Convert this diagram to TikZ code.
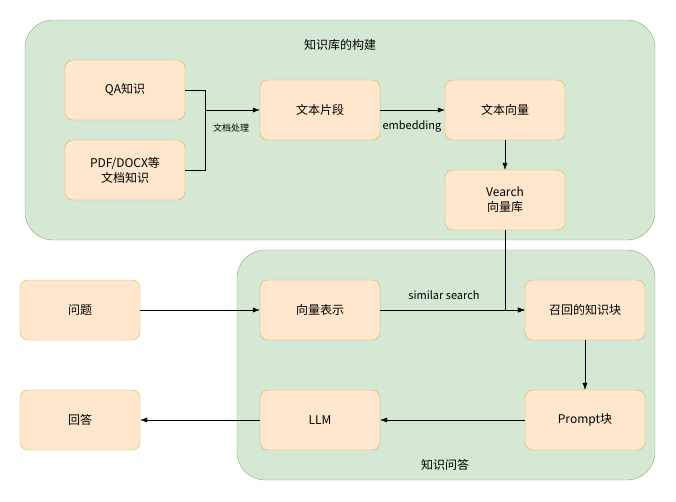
\documentclass[tikz,border=0pt]{standalone}
\usepackage{fontspec}
\setmainfont{Noto Sans CJK SC}
\usetikzlibrary{positioning,arrows.meta}
\definecolor{grpfill}{HTML}{D5E8D4}
\definecolor{grpline}{HTML}{82B366}
\definecolor{boxfill}{HTML}{FFE6CC}
\definecolor{boxline}{HTML}{D6B656}
\tikzset{
  group/.style={draw=grpline, fill=grpfill, rounded corners=28pt},
  box/.style={draw=boxline, fill=boxfill, rounded corners=8pt, minimum width=120pt, minimum height=60pt, align=center, font=\fontsize{12}{15}\selectfont},
  arr/.style={-{Latex[length=7pt,width=5pt]}, thin},
  lbl/.style={font=\fontsize{11}{13}\selectfont, inner sep=2pt}
}
\begin{document}
\begin{tikzpicture}[x=1pt, y=-1pt]
    \useasboundingbox (0,0) rectangle (676,501);

    % groups
    \draw[group] (25,20) rectangle (655,240);
    \node[font=\fontsize{12}{15}\selectfont] (buildtitle) at (340,45) {知识库的构建};
    \draw[group] (237,250) rectangle (655,480);
    \node[font=\fontsize{12}{15}\selectfont] (qatitle) at (445,465) {知识问答};

    % boxes
    \node[box] (qa) at (125,90) {QA知识};
    \node[box] (pdf) at (125,170) {PDF/DOCX等\\文档知识};
    \node[box] (seg) at (320,110) {文本片段};
    \node[box] (vec) at (505,110) {文本向量};
    \node[box] (vearch) at (505,200) {Vearch\\向量库};
    \node[box] (ques) at (80,310) {问题};
    \node[box] (qvec) at (320,310) {向量表示};
    \node[box] (recall) at (585,310) {召回的知识块};
    \node[box] (ans) at (80,420) {回答};
    \node[box] (llm) at (320,420) {LLM};
    \node[box] (prompt) at (585,420) {Prompt块};

    % connectors
    \coordinate (join) at (205,110);
    \draw (qa.east) -| (join);
    \draw (pdf.east) -| (join);
    \draw[arr] (join) -- (seg.west);
    \node[font=\fontsize{9}{11}\selectfont] (doclabel) at (231,128) {文档处理};
    \node[lbl] (emblabel) at (412,126) {embedding};
    \draw[arr] (seg) -- (vec);
    \draw[arr] (vec) -- (vearch);
    \draw[arr] (vearch.south) |- (recall.west);
    \node[lbl] (simlabel) at (444,295) {similar search};
    \draw[arr] (qvec) -- (recall);
    \draw[arr] (ques) -- (qvec);
    \draw[arr] (recall) -- (prompt);
    \draw[arr] (prompt) -- (llm);
    \draw[arr] (llm) -- (ans);
\end{tikzpicture}
\end{document}
